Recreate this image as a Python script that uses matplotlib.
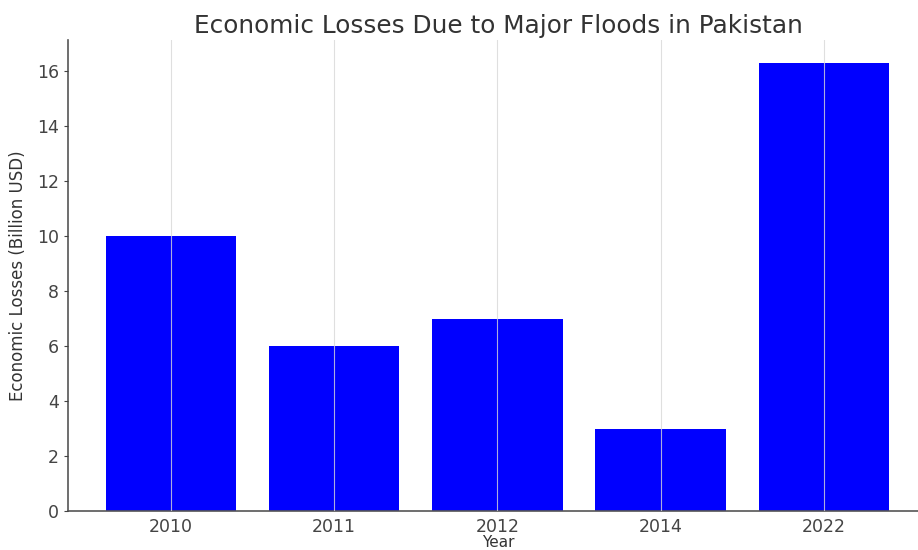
import matplotlib
matplotlib.use("Agg")
import matplotlib.pyplot as plt

years = ["2010", "2011", "2012", "2014", "2022"]
losses = [10, 6, 7, 3, 16.3]

fig = plt.figure(figsize=(9.18, 5.5), dpi=100)
W, H = 918, 550
left, right, bottom, top = 68, 928.5, 511, 40
ax = fig.add_axes([left / W, 1 - bottom / H, (right - left) / W, (bottom - top) / H])

ax.bar(years, losses, width=0.8, color="#0000ff", zorder=1)
ax.set_ylim(0, 17.13)
ax.set_xlim(-0.63, 4.64)

ax.grid(axis="x", color="#d8d8d8", linewidth=0.8, alpha=0.8, zorder=3)
ax.set_axisbelow(False)
for s in ["top", "right"]:
    ax.spines[s].set_visible(False)
for s in ["left", "bottom"]:
    ax.spines[s].set_color("#555555")
    ax.spines[s].set_linewidth(1.2)

ax.set_yticks([0, 2, 4, 6, 8, 10, 12, 14, 16])
ax.tick_params(axis="both", labelsize=12.5, colors="#444444", length=3, width=0.8)
ax.tick_params(axis="x", length=0, pad=5)
ax.set_title("Economic Losses Due to Major Floods in Pakistan", fontsize=17.8, color="#333333", pad=5)
ax.set_ylabel("Economic Losses (Billion USD)", fontsize=12, color="#333333", labelpad=7)
ax.set_xlabel("Year", fontsize=11, color="#333333", labelpad=-1)

fig.savefig("out.png", dpi=100)
